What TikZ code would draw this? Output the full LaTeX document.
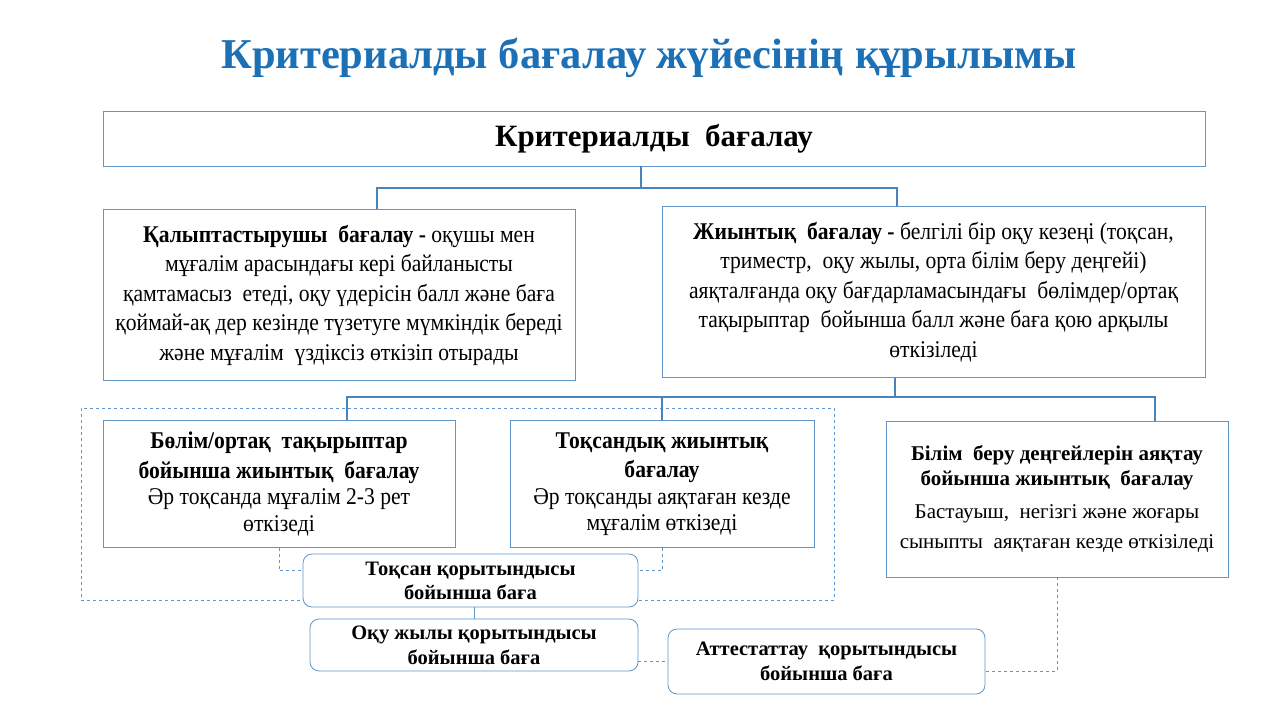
\documentclass[tikz,border=0pt]{standalone}
\usepackage{fontspec}
\setmainfont{Liberation Serif}
\newfontfamily\narrowfont[FakeStretch=0.9]{Liberation Serif}
\usepackage{xcolor}
\usetikzlibrary{positioning}
\definecolor{titleblue}{RGB}{28,112,182}
\definecolor{boxblue}{RGB}{96,150,200}
\definecolor{linkblue}{RGB}{70,132,190}

\begin{document}
\begin{tikzpicture}[x=1pt, y=-1pt,
        % Node styles
        mainbox/.style={draw=boxblue, fill=white, line width=0.8pt, align=center, inner sep=0pt, font=\narrowfont\fontsize{24}{29.5}\selectfont},
        levelbox/.style={draw=boxblue, fill=white, line width=0.8pt, align=center, inner sep=0pt, font=\fontsize{21}{30}\selectfont},
        resultbox/.style={draw=boxblue, fill=white, line width=0.8pt, rounded corners=9pt, align=center, inner sep=0pt, font=\bfseries\fontsize{20.5}{25}\selectfont},
        groupbox/.style={draw=boxblue, dashed, line width=0.6pt, inner sep=0pt},
        link/.style={draw=linkblue, line width=1.6pt},
        dashlink/.style={draw=boxblue, dashed, line width=0.7pt},
        thinlink/.style={draw=boxblue, line width=0.8pt}
    ]
    \useasboundingbox (0,0) rectangle (1280,720);

    % Title
    \node[font=\bfseries\fontsize{42.5}{46}\selectfont, text=titleblue] (title) at (649,58) {Критериалды бағалау жүйесінің құрылымы};

    % Dashed group round the two summative boxes
    \node[groupbox, minimum width=753, minimum height=192] (group) at (457.5,504) {};

    % Top level
    \node[mainbox, minimum width=1102, minimum height=55, font=\bfseries\fontsize{31}{33}\selectfont] (top) at (654,138.5) {Критериалды\ \ бағалау};

    % Second level
    \node[mainbox, minimum width=472, minimum height=171] (formative) at (339,295) {\textbf{Қалыптастырушы\ \ бағалау -} оқушы мен\\мұғалім арасындағы кері байланысты\\қамтамасыз\ \ етеді, оқу үдерісін балл және баға\\қоймай-ақ дер кезінде түзетуге мүмкіндік береді\\және мұғалім\ \ үздіксіз өткізіп отырады};
    \node[mainbox, minimum width=543, minimum height=171] (summative) at (933.5,292) {\textbf{Жиынтық\ \ бағалау -} белгілі бір оқу кезеңі (тоқсан,\\триместр,\ \ оқу жылы, орта білім беру деңгейі)\\аяқталғанда оқу бағдарламасындағы\ \ бөлімдер/ортақ\\тақырыптар\ \ бойынша балл және баға қою арқылы\\өткізіледі};

    % Third level
    \node[mainbox, minimum width=352, minimum height=127] (section) at (279,484) {\textbf{Бөлім/ортақ\ \ тақырыптар}\\\textbf{бойынша жиынтық\ \ бағалау}\\[-3pt]Әр тоқсанда мұғалім 2-3 рет\\[-3pt]өткізеді};
    \node[mainbox, minimum width=304, minimum height=127] (quarter) at (662,484) {\textbf{Тоқсандық жиынтық}\\\textbf{бағалау}\\[-3pt]Әр тоқсанды аяқтаған кезде\\[-3pt]мұғалім өткізеді};
    \node[levelbox, minimum width=342, minimum height=156] (level) at (1057,499) {\textbf{Білім\ \ беру деңгейлерін аяқтау}\\[-5pt]\textbf{бойынша жиынтық\ \ бағалау}\\[3pt]Бастауыш,\ \ негізгі және жоғары\\сыныпты\ \ аяқтаған кезде өткізіледі};

    % Results
    \node[resultbox, minimum width=335, minimum height=53] (qresult) at (470.5,580.5) {Тоқсан қорытындысы\\[-1pt]бойынша баға};
    \node[resultbox, minimum width=328, minimum height=52] (yresult) at (474,645) {Оқу жылы қорытындысы\\бойынша баға};
    \node[resultbox, minimum width=317, minimum height=65] (aresult) at (826.5,661.5) {Аттестаттау\ \ қорытындысы\\бойынша баға};

    % Bus points
    \coordinate (busTop) at (641,188);
    \coordinate (busL) at (377,188);
    \coordinate (busR) at (897,188);
    \coordinate (busMid) at (895,397);
    \coordinate (busA) at (347,397);
    \coordinate (busB) at (662,397);
    \coordinate (busC) at (1155,397);

    % Tree connectors
    \draw[link] (top.south -| busTop) -- (busTop);
    \draw[link] (formative.north -| busL) -- (busL) -- (busR) -- (summative.north -| busR);
    \draw[link] (summative.south -| busMid) -- (busMid);
    \draw[link] (section.north -| busA) -- (busA) -- (busC) -- (level.north -| busC);
    \draw[link] (quarter.north -| busB) -- (busB);

    % Result connectors
    \draw[dashlink] (section.south) |- ([yshift=10pt]qresult.west);
    \draw[dashlink] (quarter.south) |- ([yshift=10pt]qresult.east);
    \draw[thinlink] (qresult.south -| yresult.north) -- (yresult.north);
    \draw[dashlink] (yresult.east |- aresult.west) -- (aresult.west);
    \draw[dashlink] (level.south) |- ([yshift=-10pt]aresult.east);

\end{tikzpicture}
\end{document}
